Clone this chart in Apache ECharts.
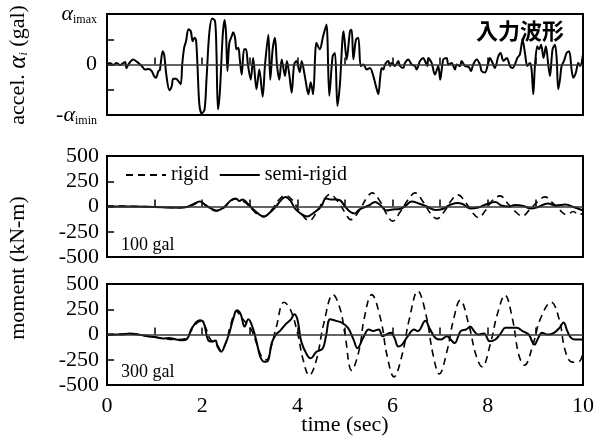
<!DOCTYPE html>
<html>
<head>
<meta charset="utf-8">
<script src="https://cdn.jsdelivr.net/npm/echarts@6/dist/echarts.min.js"></script>
<style>
  html, body { margin: 0; padding: 0; background: #fff; }
  #chart { width: 609px; height: 439px; }
</style>
</head>
<body>
<div id="chart"></div>
<script>
// input wave (normalised to alpha_imax / alpha_imin)
const accelTime = [0, 0.06, 0.13, 0.2, 0.27, 0.33, 0.38, 0.41, 0.45, 0.55, 0.66, 0.73, 0.8, 0.87, 0.94, 0.99, 1.03, 1.08, 1.11, 1.17, 1.2, 1.25, 1.31, 1.36, 1.39, 1.45, 1.5, 1.55, 1.58, 1.62, 1.66, 1.71, 1.76, 1.8, 1.84, 1.87, 1.9, 1.94, 1.99, 2.05, 2.09, 2.15, 2.21, 2.27, 2.3, 2.33, 2.37, 2.43, 2.47, 2.5, 2.53, 2.57, 2.62, 2.65, 2.69, 2.72, 2.76, 2.79, 2.83, 2.88, 2.92, 2.96,
  3.02, 3.07, 3.14, 3.2, 3.27, 3.32, 3.39, 3.43, 3.48, 3.53, 3.57, 3.62, 3.67, 3.74, 3.78, 3.83, 3.88, 3.93, 3.98, 4.05, 4.09, 4.16, 4.23, 4.28, 4.33, 4.4, 4.47, 4.54, 4.61, 4.67, 4.74, 4.79, 4.84, 4.89, 4.97,
  5.035, 5.105, 5.14, 5.175, 5.23, 5.28, 5.33, 5.385, 5.455, 5.525, 5.595, 5.65, 5.7, 5.735, 5.77, 5.805, 5.84, 5.91, 5.945, 5.98, 6.05, 6.12, 6.155, 6.225, 6.26, 6.33, 6.4, 6.47, 6.505, 6.575, 6.645, 6.68, 6.73, 6.75, 6.82, 6.89, 6.96, 7.0, 7.065, 7.135, 7.17, 7.24, 7.31, 7.345, 7.415, 7.45, 7.52, 7.6, 7.646, 7.695, 7.765, 7.835, 7.87, 7.94,
  8.01, 8.045, 8.1, 8.15, 8.22, 8.27, 8.326, 8.4, 8.465, 8.52, 8.57, 8.62, 8.675, 8.73, 8.78, 8.83, 8.886, 8.92, 8.956, 8.99, 9.04, 9.08, 9.12, 9.17, 9.22, 9.27, 9.306, 9.36, 9.41, 9.446, 9.48, 9.516, 9.55, 9.6, 9.656, 9.71, 9.76, 9.796, 9.85, 9.9, 9.94, 10];
const accelValue = [0, 0.03, -0.01, 0.03, -0.01, 0.02, 0.05, -0.07, 0, 0.1, 0.03, -0.03, -0.1, -0.09, -0.13, -0.23, -0.26, -0.13, -0.11, 0.26, 0.2, -0.23, -0.51, -0.43, -0.28, -0.28, -0.33, -0.39, 0, 0.33, 0.46, 0.7, 0.66, 0.46, 0.53, 0.49, 0, -0.79, -0.97, -0.89, -0.3, 0.63, 0.91, 0.86, 0.23, -0.89, -0.56, 0.56, 0.88, 0.63, -0.13, 0.43, 0.56, 0.64, 0.53, 0.3, 0.33, 0.1, -0.2, 0.3, 0.3, 0,
  -0.3, 0.13, -0.49, -0.1, -0.64, 0, 0.59, -0.3, 0.3, 0.53, 0, -0.3, 0.1, -0.23, 0.07, -0.2, -0.56, 0, 0.07, -0.15, 0.07, -0.25, -0.59, -0.35, -0.59, 0.43, 0.3, 0.56, 0.79, -0.62, 0.16, 0.23, -0.82, -0.43, 0.66,
  0.1, 0.66, 0.69, 0.1, 0.49, 0.53, -0.03, 0, -0.1, -0.07, -0.23, -0.43, -0.59, -0.3, -0.07, -0.1, 0, 0.07, -0.03, 0.03, -0.03, 0.07, -0.03, -0.07, 0.03, 0.1, 0, -0.03, -0.1, 0.07, 0.13, 0.07, -0.03, 0.13, 0.03, -0.2, -0.03, -0.3, 0.1, 0.13, 0, 0.03, -0.1, 0, -0.03, 0.07, -0.03, -0.05, -0.13, 0, 0.1, 0, -0.13, -0.16,
  0.03, 0.13, 0.03, -0.07, 0.16, 0.23, 0.07, 0.13, -0.03, -0.07, 0, 0.13, 0.2, 0.49, 0.23, -0.03, 0.03, -0.1, -0.59, -0.03, 0.36, 0.3, 0.39, 0.13, 0.36, 0, -0.23, 0.3, 0.39, 0.13, -0.49, -0.3, -0.03, 0.07, 0.23, 0.26, -0.1, -0.26, -0.16, 0.03, -0.03, 0.2];

// 100 gal, moment (kN-m)
const semi100Time = [0, 0.5, 1.0, 1.3, 1.5, 1.65, 1.8, 1.95, 2.05, 2.15, 2.3, 2.45, 2.6, 2.7, 2.78, 2.85, 2.95, 3.1, 3.3, 3.4, 3.55, 3.65, 3.75, 3.85, 3.95, 4.1, 4.2, 4.35, 4.5, 4.6, 4.7, 4.8, 4.9, 5.0, 5.1, 5.2, 5.3, 5.5, 5.63, 5.75, 5.87, 6.0, 6.15, 6.28, 6.4, 6.55, 6.72, 6.9, 7.05, 7.18, 7.35, 7.47, 7.63, 7.8, 7.96, 8.16, 8.28, 8.45, 8.57, 8.75, 8.9, 9.06, 9.26, 9.43, 9.63, 9.8, 10];
const semi100Value = [0, 0, -5, -10, -12, -8, 20, 50, 20, -10, -40, -10, 60, 80, 55, 70, 30, -40, -100, -70, 0, 60, 95, 60, -20, -80, -100, -60, 0, 80, 70, 70, 60, 0, -50, -70, -30, 10, 45, 10, -40, -30, -25, 10, 50, 30, 0, -35, -25, 10, 35, 25, -20, -10, 20, 45, 10, 0, 15, 5, -20, -5, 30, 10, 20, -5, -40];
const rigid100Time = [0, 0.5, 1.0, 1.3, 1.5, 1.65, 1.8, 1.95, 2.05, 2.15, 2.3, 2.45, 2.6, 2.7, 2.8, 2.9, 3.05, 3.2, 3.3, 3.45, 3.6, 3.75, 3.9, 4.05, 4.25, 4.4, 4.55, 4.68, 4.85, 5.0, 5.12, 5.3, 5.45, 5.57, 5.75, 5.88, 6.0, 6.15, 6.33, 6.47, 6.65, 6.8, 6.93, 7.1, 7.25, 7.37, 7.55, 7.68, 7.8, 7.95, 8.1, 8.26, 8.4, 8.58, 8.72, 8.88, 9.05, 9.2, 9.35, 9.5, 9.65, 9.8, 9.9, 10];
const rigid100Value = [5, 2, -5, -10, -12, -8, 15, 45, 20, -15, -45, -15, 55, 75, 60, 40, -30, -90, -100, -40, 60, 110, 60, -50, -140, -60, 60, 120, 50, -60, -130, -40, 80, 135, 40, -80, -145, -60, 70, 135, 40, -70, -120, -40, 70, 115, 30, -60, -110, -40, 60, 105, 40, -50, -95, -30, 50, 95, 40, -30, -80, -50, -80, -70];

// 300 gal, moment (kN-m)
const semi300Time = [0, 0.3, 0.48, 0.6, 0.85, 1.0, 1.18, 1.3, 1.46, 1.58, 1.68, 1.79, 1.95, 2.03, 2.12, 2.2, 2.28, 2.32, 2.4, 2.48, 2.56, 2.65, 2.73, 2.81, 2.89, 2.97, 3.06, 3.14, 3.22, 3.3, 3.38, 3.46, 3.55, 3.63, 3.75, 3.87, 3.93, 4.0, 4.08, 4.2, 4.28, 4.4, 4.53, 4.6, 4.69, 4.81, 4.93, 5.06, 5.18, 5.26, 5.38, 5.5, 5.59, 5.71, 5.79, 5.87, 5.96, 6.04, 6.12, 6.2, 6.32, 6.45, 6.53, 6.69, 6.77, 6.9, 7.02, 7.14, 7.22, 7.3, 7.43, 7.55, 7.63, 7.71, 7.79, 7.92, 8.04, 8.16, 8.28, 8.37, 8.49, 8.61, 8.73, 8.86, 8.98, 9.06, 9.14, 9.26, 9.39, 9.51, 9.59, 9.67, 9.75, 9.84, 10];
const semi300Value = [0, 0, 10, 5, -17, -25, -40, -34, -50, -57, -45, 68, 140, 118, -50, -70, -60, -118, -170, -100, 0, 152, 240, 200, 78, 150, 68, -68, -220, -270, -260, -85, 0, 34, 100, 152, 200, 150, -68, -200, -235, -170, -140, -17, 152, 135, 118, 68, -50, -135, -34, 50, 34, 50, -17, 0, 17, -34, -118, -100, -17, 50, 34, 135, 68, -34, -50, -17, -50, -85, 34, 50, 78, 34, 0, 10, -68, -50, 17, 68, 68, 68, 34, 0, -100, -34, 17, 0, 17, 68, 118, 34, -34, -50, -50];
const rigid300Time = [0, 0.5, 1.0, 1.46, 1.65, 1.8, 1.95, 2.05, 2.15, 2.22, 2.3, 2.4, 2.5, 2.6, 2.72, 2.82, 2.95, 3.05, 3.15, 3.25, 3.35, 3.45, 3.55, 3.72, 3.85, 4.0, 4.12, 4.25, 4.4, 4.55, 4.75, 4.9, 5.0, 5.14, 5.3, 5.4, 5.56, 5.75, 5.88, 6.03, 6.2, 6.35, 6.53, 6.7, 6.85, 6.98, 7.15, 7.28, 7.42, 7.6, 7.75, 7.88, 8.05, 8.2, 8.36, 8.52, 8.65, 8.77, 8.95, 9.1, 9.33, 9.5, 9.62, 9.75, 9.85, 9.92, 10];
const rigid300Value = [0, 5, -25, -50, -40, 60, 130, 90, -30, -70, -90, -160, -80, 100, 230, 170, 100, 30, -100, -220, -250, -120, 60, 320, 250, 20, -250, -405, -250, 100, 395, 250, 0, -355, -150, 150, 395, 150, -200, -420, -200, 150, 430, 200, -200, -390, -150, 150, 340, 100, -200, -320, -100, 200, 390, 150, -200, -305, -100, 150, 320, 150, -150, -270, -275, -270, -185];

const timeTicks = [0, 2, 4, 6, 8, 10];
const momentTicks = [-500, -250, 0, 250, 500];

window.addEventListener('DOMContentLoaded', function() {
    initChart();
});

function pairs(t, v) {
    return t.map((x, i) => [x, v[i]]);
}

function initChart() {
    const myChart = echarts.init(document.getElementById('chart'));
    const serif = 'Liberation Serif';

    const grids = [
        { left: 107, top: 14, width: 476, height: 101 },
        { left: 107, top: 156, width: 476, height: 101 },
        { left: 107, top: 284, width: 476, height: 101 }
    ].map(g => Object.assign(g, { show: true, borderColor: '#000', borderWidth: 2, containLabel: false }));

    const xAxes = [0, 1, 2].map(i => ({
        type: 'value',
        gridIndex: i,
        min: 0,
        max: 10,
        interval: 1,
        axisLine: { show: false },
        axisTick: { show: true, inside: true, length: 7, lineStyle: { color: '#000', width: 1.5 } },
        splitLine: { show: false },
        axisLabel: {
            show: i === 2,
            margin: 10,
            color: '#000',
            fontFamily: serif,
            fontSize: 22,
            formatter: v => (timeTicks.indexOf(v) >= 0 ? String(v) : '')
        }
    }));

    const yTick = { show: true, inside: true, length: 7, lineStyle: { color: '#000', width: 1.5 } };
    const yAxes = [
        {
            type: 'value', gridIndex: 0, min: -1, max: 1, interval: 0.5,
            axisLine: { show: false }, axisTick: yTick, splitLine: { show: false },
            axisLabel: {
                margin: 10, color: '#000', fontFamily: serif, fontSize: 22,
                formatter: function(v) {
                    if (v === 1) return '{a|α}{s|imax}';
                    if (v === -1) return '-{a|α}{s|imin}';
                    if (v === 0) return '0';
                    return '';
                },
                rich: {
                    a: { fontFamily: serif, fontStyle: 'italic', fontSize: 22, color: '#000' },
                    s: { fontFamily: serif, fontSize: 12, color: '#000', padding: [12, 0, 0, 0] }
                }
            }
        }
    ];
    [1, 2].forEach(i => yAxes.push({
        type: 'value', gridIndex: i, min: -500, max: 500, interval: 250,
        axisLine: { show: false }, axisTick: yTick, splitLine: { show: false },
        axisLabel: {
            margin: 8, color: '#000', fontFamily: serif, fontSize: 22,
            formatter: v => (momentTicks.indexOf(v) >= 0 ? String(v) : '')
        }
    }));

    const zeroLine = {
        silent: true,
        symbol: 'none',
        label: { show: false },
        lineStyle: { color: '#333', width: 1.5, type: 'solid' },
        data: [{ yAxis: 0 }]
    };

    const solid = { color: '#000', width: 2, type: 'solid' };
    const dashed = { color: '#000', width: 1.6, type: [7, 5] };

    const series = [
        {
            name: 'accel', type: 'line', xAxisIndex: 0, yAxisIndex: 0,
            data: pairs(accelTime, accelValue), showSymbol: false, symbol: 'none',
            smooth: 0.3, lineStyle: solid, markLine: zeroLine
        },
        {
            name: 'rigid', type: 'line', xAxisIndex: 1, yAxisIndex: 1,
            data: pairs(rigid100Time, rigid100Value), symbol: 'none',
            smooth: 0.4, lineStyle: dashed, itemStyle: { color: '#000' }, markLine: zeroLine
        },
        {
            name: 'semi-rigid', type: 'line', xAxisIndex: 1, yAxisIndex: 1,
            data: pairs(semi100Time, semi100Value), symbol: 'none',
            smooth: 0.4, lineStyle: solid, itemStyle: { color: '#000' }
        },
        {
            name: 'rigid', type: 'line', xAxisIndex: 2, yAxisIndex: 2,
            data: pairs(rigid300Time, rigid300Value), symbol: 'none',
            smooth: 0.4, lineStyle: dashed, itemStyle: { color: '#000' }, markLine: zeroLine
        },
        {
            name: 'semi-rigid', type: 'line', xAxisIndex: 2, yAxisIndex: 2,
            data: pairs(semi300Time, semi300Value), symbol: 'none',
            smooth: 0.4, lineStyle: solid, itemStyle: { color: '#000' }
        }
    ];

    const option = {
        animation: false,
        backgroundColor: '#fff',
        grid: grids,
        xAxis: xAxes,
        yAxis: yAxes,
        legend: {
            data: ['rigid', 'semi-rigid'],
            left: 120,
            top: 160,
            itemWidth: 40,
            itemHeight: 12,
            itemGap: 10,
            selectedMode: false,
            itemStyle: { opacity: 0, borderWidth: 0 },
            textStyle: { fontFamily: serif, fontSize: 20, color: '#000' }
        },
        graphic: [
            {
                type: 'text', x: 18, y: 65, rotation: Math.PI / 2,
                style: {
                    text: 'accel. {a|α}{s|i} (gal)',
                    fontFamily: serif, fontSize: 22, fill: '#000',
                    align: 'center', verticalAlign: 'middle',
                    rich: {
                        a: { fontFamily: serif, fontStyle: 'italic', fontSize: 25, fill: '#000' },
                        s: { fontFamily: serif, fontStyle: 'italic', fontSize: 12, fill: '#000', padding: [12, 0, 0, 0] }
                    }
                }
            },
            {
                type: 'text', x: 18, y: 268, rotation: Math.PI / 2,
                style: { text: 'moment (kN-m)', fontFamily: serif, fontSize: 22, fill: '#000', align: 'center', verticalAlign: 'middle' }
            },
            {
                type: 'text', x: 345, y: 425,
                style: { text: 'time (sec)', fontFamily: serif, fontSize: 22, fill: '#000', align: 'center', verticalAlign: 'middle' }
            },
            {
                type: 'text', x: 520, y: 31,
                style: { text: '入力波形', fontFamily: 'Noto Sans CJK JP', fontWeight: 'bold', fontSize: 22, fill: '#000', align: 'center', verticalAlign: 'middle' }
            },
            {
                type: 'text', x: 121, y: 245,
                style: { text: '100 gal', fontFamily: serif, fontSize: 18, fill: '#000', align: 'left', verticalAlign: 'middle' }
            },
            {
                type: 'text', x: 121, y: 372,
                style: { text: '300 gal', fontFamily: serif, fontSize: 18, fill: '#000', align: 'left', verticalAlign: 'middle' }
            }
        ],
        series: series
    };

    myChart.setOption(option);
    window.addEventListener('resize', () => myChart.resize());
}
</script>
</body>
</html>
